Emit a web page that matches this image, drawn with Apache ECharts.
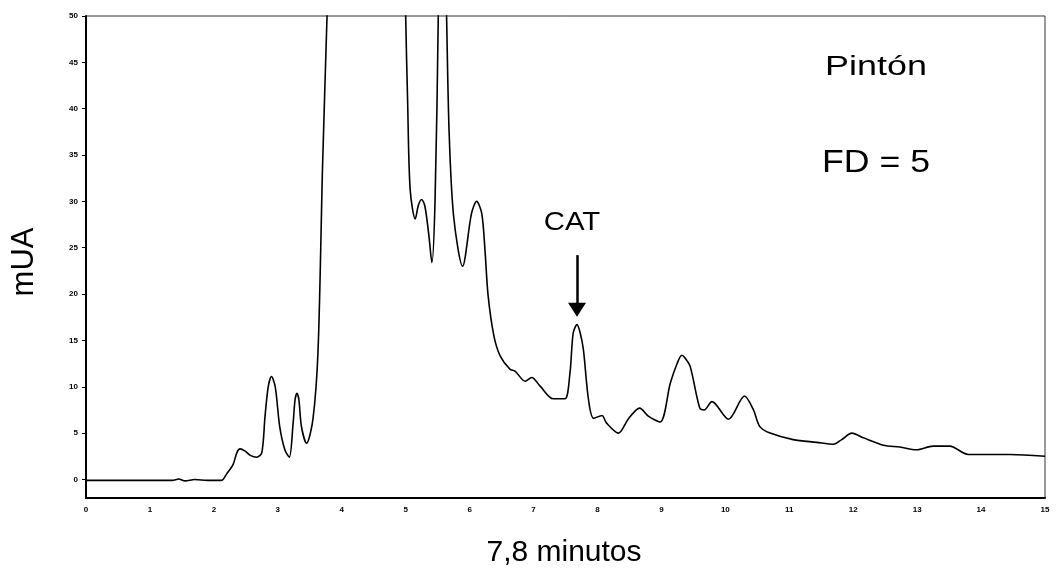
<!DOCTYPE html>
<html>
<head>
<meta charset="utf-8">
<script src="https://cdn.jsdelivr.net/npm/echarts@6/dist/echarts.min.js"></script>
<style>
  html, body { margin: 0; padding: 0; background: #fff; }
  #main { width: 1056px; height: 574px; }
</style>
</head>
<body>
<div id="main"></div>
<script>
var tiempo = [0, 0.5, 1, 1.35, 1.45, 1.55, 1.7, 1.9, 2.05, 2.12, 2.2, 2.3, 2.36, 2.41, 2.49, 2.57, 2.67, 2.75,
  2.8, 2.85, 2.9, 2.96, 3.03, 3.11, 3.18, 3.24, 3.27, 3.3, 3.33, 3.37, 3.45, 3.55, 3.63, 3.7, 3.77, 3.85, 4.4, 4.95,
  5.0, 5.03, 5.07, 5.15, 5.2, 5.25, 5.3, 5.36, 5.41, 5.46, 5.51, 5.55, 5.64, 5.68, 5.75, 5.89, 6.03, 6.11,
  6.19, 6.24, 6.29, 6.38, 6.48, 6.63, 6.71, 6.87, 6.97, 7.1, 7.31, 7.49, 7.57, 7.62, 7.68, 7.73, 7.78, 7.86, 7.94,
  8.07, 8.14, 8.33, 8.48, 8.66, 8.8, 8.98, 9.14, 9.24, 9.32, 9.37, 9.45, 9.6, 9.67, 9.79, 10.05, 10.3, 10.44,
  10.54, 10.7, 11.06, 11.43, 11.69, 11.82, 11.98, 12.16, 12.47, 12.73, 12.99, 13.25, 13.51, 13.8,
  14.45, 15];
var mUA = [-0.1, -0.1, -0.1, -0.1, 0.05, -0.15, 0, -0.1, -0.1, -0.1, 0.6, 1.6, 2.9, 3.3, 3.05, 2.6, 2.4, 2.9,
  6.8, 10.0, 11.1, 10.0, 5.7, 3.2, 2.4, 6.1, 8.6, 9.3, 8.6, 5.7, 3.9, 6.5, 14.0, 33.8, 50, 70, 200, 70,
  50, 41, 31.3, 28.1, 29.6, 30.2, 29.5, 26.5, 23.4, 30.2, 50, 80, 50, 37.4, 28.4, 23.0, 28.7, 30.0,
  28.7, 24.8, 19.8, 15.5, 13.3, 11.9, 11.7, 10.6, 11.0, 10.1, 8.7, 8.7, 11.5, 15.8, 16.7, 15.8, 14.0, 8.6, 6.6,
  6.9, 6.1, 5.0, 6.5, 7.7, 6.8, 6.2, 10.4, 12.4, 13.4, 13.1, 12.2, 7.7, 7.5, 8.4, 6.5, 9.0, 7.5,
  5.7, 5.0, 4.3, 4.0, 3.8, 4.3, 5.0, 4.5, 3.7, 3.5, 3.2, 3.6, 3.6, 2.7,
  2.7, 2.5];
var ejeX = [0, 15, 1];
var ejeY = [-2, 50];
var marcasY = [0, 5, 10, 15, 20, 25, 30, 35, 40, 45, 50];

var puntos = tiempo.map(function (t, i) { return [t, mUA[i]]; });

var myChart = echarts.init(document.getElementById('main'));

function texto(t, x, y, size, sx, rot) {
  return {
    type: 'text', x: x, y: y, scaleX: sx || 1, rotation: rot || 0,
    style: { text: t, font: size + 'px "Liberation Sans"', fill: '#000', textAlign: 'center', textVerticalAlign: 'middle' }
  };
}

var option = {
  animation: false,
  grid: {
    left: 86, right: 11, top: 16, bottom: 76,
    show: true, borderColor: '#333', borderWidth: 1
  },
  xAxis: {
    type: 'value',
    min: ejeX[0], max: ejeX[1], interval: ejeX[2],
    axisLine: { onZero: false, lineStyle: { color: '#000', width: 2 } },
    axisTick: { show: false },
    splitLine: { show: false },
    axisLabel: { color: '#000', fontSize: 8, fontWeight: 'bold', fontFamily: 'Liberation Sans', margin: 8 }
  },
  yAxis: {
    type: 'value',
    min: ejeY[0], max: ejeY[1],
    axisLine: { show: true, lineStyle: { color: '#000', width: 2 } },
    axisTick: { show: true, length: 4, lineStyle: { color: '#000' }, customValues: marcasY },
    splitLine: { show: false },
    axisLabel: {
      color: '#000', fontSize: 8, fontWeight: 'bold', fontFamily: 'Liberation Sans', margin: 8,
      customValues: marcasY
    }
  },
  series: [{
    type: 'line',
    data: puntos,
    showSymbol: false,
    smooth: 0.3,
    clip: true,
    lineStyle: { color: '#000', width: 1.6 },
    markLine: {
      silent: true,
      symbol: ['none', 'triangle'],
      symbolSize: [18, 14],
      lineStyle: { color: '#000', width: 2.5, type: 'solid' },
      label: { show: false },
      data: [[{ coord: [7.68, 24.2] }, { coord: [7.68, 18.3] }]]
    }
  }],
  graphic: [
    texto('mUA', 24, 262, 31, 1, Math.PI / 2),
    texto('7,8 minutos', 564, 553, 30),
    texto('Pintón', 876, 68, 27, 1.33),
    texto('FD = 5', 876, 163, 31, 1.15),
    texto('CAT', 572, 223, 26, 1.13)
  ]
};

myChart.setOption(option);
</script>
</body>
</html>
